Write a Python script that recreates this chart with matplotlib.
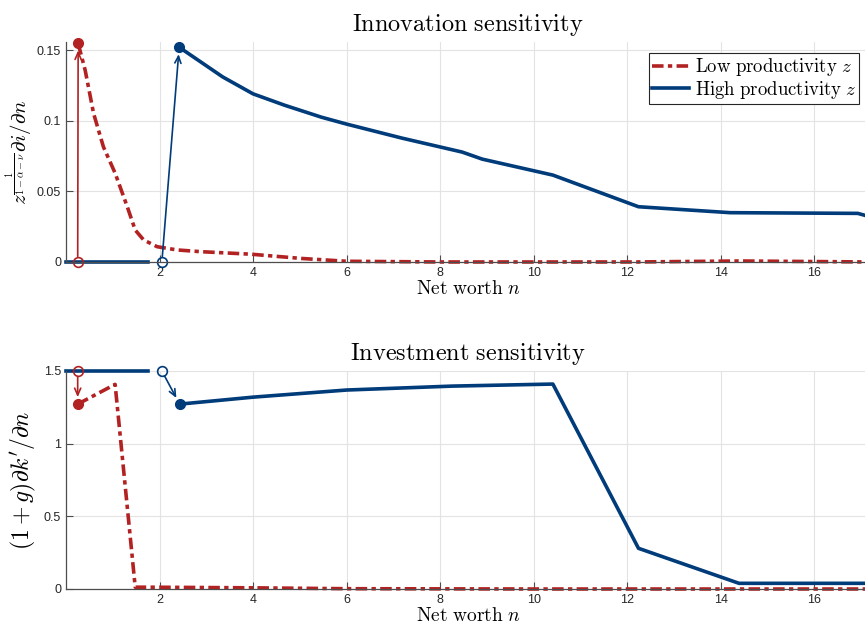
import numpy as np
import matplotlib
matplotlib.use("Agg")
import matplotlib.pyplot as plt

plt.rcParams['mathtext.fontset'] = 'cm'
plt.rcParams['font.family'] = 'Liberation Sans'

red = '#B22222'
blue = '#003B7A'

# innovation sensitivity, low productivity
n_low_i = [0.26, 0.41, 0.59, 0.80, 1.05, 1.31, 1.48, 1.66, 1.95, 2.38, 2.88, 3.96, 5.03, 6.0, 8.0,
           10.0, 12.2, 14.4, 17.2]
v_low_i = [0.1547, 0.1357, 0.1051, 0.0815, 0.0629, 0.0391, 0.0226, 0.0156, 0.0108, 0.0085, 0.0073,
           0.0055, 0.0025, 0.0005, 0.0, 0.0, 0.0, 0.0007, 0.0]
# innovation sensitivity, high productivity
n_high_i = [2.42, 3.35, 4.0, 4.67, 5.46, 6.0, 7.18, 8.47, 8.9, 10.41, 12.24, 14.2, 16.93, 17.3]
v_high_i = [0.152, 0.131, 0.119, 0.111, 0.1025, 0.0976, 0.0877, 0.0778, 0.0728, 0.0615, 0.0391, 0.0349,
            0.0344, 0.031]

# investment sensitivity, low productivity
n_low_k = [0.25, 1.05, 1.48, 2.0, 4.0, 6.0, 10.0, 14.4, 17.2]
v_low_k = [1.272, 1.408, 0.0125, 0.012, 0.008, 0.002, 0.0, 0.0, 0.0]
# investment sensitivity, high productivity
n_high_k = [2.43, 4.0, 6.0, 8.26, 10.41, 12.24, 14.39, 17.3]
v_high_k = [1.272, 1.32, 1.369, 1.396, 1.41, 0.28, 0.039, 0.039]

# constrained region before the jump
flat_n = [0.0, 1.75]
jump_low = 0.25
jump_high = 2.05

dashdot = (0, (3.2, 1.2, 1.2, 1.2))

fig = plt.figure(figsize=(8.65, 6.29), dpi=100)
ax1 = fig.add_axes([0.0763, 0.5835, 0.93, 0.3497])
ax2 = fig.add_axes([0.0763, 0.0636, 0.93, 0.3466])


def style(ax, ylim, yticks, yticklabels):
    ax.set_xlim(0, 17.2)
    ax.set_ylim(*ylim)
    ax.set_xticks([2, 4, 6, 8, 10, 12, 14, 16])
    ax.set_yticks(yticks)
    ax.set_yticklabels(yticklabels)
    ax.grid(True, color='#e3e3e3', linewidth=0.8)
    ax.set_axisbelow(True)
    for s in ['top', 'right']:
        ax.spines[s].set_visible(False)
    for s in ['left', 'bottom']:
        ax.spines[s].set_color('#4d4d4d')
        ax.spines[s].set_linewidth(0.9)
    ax.tick_params(direction='in', length=5, width=0.8, colors='#4d4d4d',
                   labelcolor='#262626', labelsize=9)
    ax.set_xlabel(r'$\mathrm{Net\ worth}\ n$', fontsize=14, labelpad=1)


def arrow(ax, x0, y0, x1, y1, color):
    ax.annotate('', xy=(x1, y1), xytext=(x0, y0),
                arrowprops=dict(arrowstyle='->,head_length=0.5,head_width=0.22',
                                color=color, lw=1.2, shrinkA=4, shrinkB=5))


# innovation panel
ax1.plot(n_low_i, v_low_i, color=red, lw=2.6, linestyle=dashdot, label=r'$\mathrm{Low\ productivity}\ z$', clip_on=False)
ax1.plot(n_high_i, v_high_i, color=blue, lw=2.6, label=r'$\mathrm{High\ productivity}\ z$')
ax1.plot(flat_n, [0, 0], color=blue, lw=2.6, clip_on=False)
arrow(ax1, jump_low, 0, n_low_i[0], v_low_i[0], red)
arrow(ax1, jump_high, 0, n_high_i[0], v_high_i[0], blue)
ax1.plot(jump_low, 0, 'o', mfc='none', mec=red, ms=7, mew=1.2, clip_on=False)
ax1.plot(jump_high, 0, 'o', mfc='none', mec=blue, ms=7, mew=1.2, clip_on=False)
ax1.plot(n_low_i[0], v_low_i[0], 'o', color=red, ms=7, clip_on=False)
ax1.plot(n_high_i[0], v_high_i[0], 'o', color=blue, ms=7, clip_on=False)
style(ax1, (0, 0.1557), [0, 0.05, 0.1, 0.15], ['0', '0.05', '0.1', '0.15'])
ax1.set_ylabel(r'$z^{\frac{1}{1-\alpha-\nu}}\partial i/\partial n$', fontsize=15)
ax1.yaxis.set_label_coords(-0.038, 0.5)
ax1.set_title(r'$\mathrm{Innovation\ sensitivity}$', fontsize=17.5, pad=8)
leg = ax1.legend(loc='upper right', fontsize=13.5, fancybox=False, framealpha=1,
                 edgecolor='#262626', handlelength=2.0, handletextpad=0.3,
                 borderpad=0.15, labelspacing=0.05, borderaxespad=0.6)
leg.get_frame().set_linewidth(0.8)

# investment panel
ax2.plot(n_low_k, v_low_k, color=red, lw=2.6, linestyle=dashdot, clip_on=False)
ax2.plot(n_high_k, v_high_k, color=blue, lw=2.6)
ax2.plot(flat_n, [1.5, 1.5], color=blue, lw=2.6, clip_on=False)
arrow(ax2, jump_low, 1.5, n_low_k[0], v_low_k[0], red)
arrow(ax2, jump_high, 1.5, n_high_k[0], v_high_k[0], blue)
ax2.plot(jump_low, 1.5, 'o', mfc='none', mec=red, ms=7, mew=1.2, clip_on=False)
ax2.plot(jump_high, 1.5, 'o', mfc='none', mec=blue, ms=7, mew=1.2, clip_on=False)
ax2.plot(n_low_k[0], v_low_k[0], 'o', color=red, ms=7, clip_on=False)
ax2.plot(n_high_k[0], v_high_k[0], 'o', color=blue, ms=7, clip_on=False)
style(ax2, (0, 1.5), [0, 0.5, 1, 1.5], ['0', '0.5', '1', '1.5'])
ax2.set_ylabel(r"$(1+g)\partial k'/\partial n$", fontsize=17)
ax2.yaxis.set_label_coords(-0.035, 0.5)
ax2.set_title(r'$\mathrm{Investment\ sensitivity}$', fontsize=17.5, pad=8)

fig.savefig('out.png', dpi=100)
